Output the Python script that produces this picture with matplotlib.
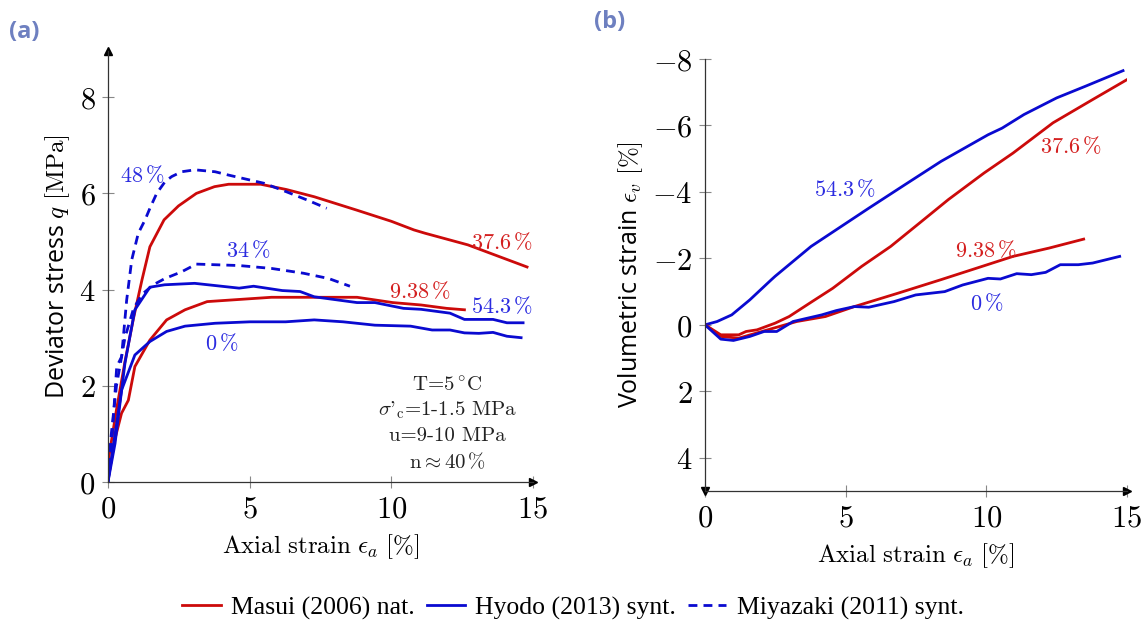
import matplotlib
matplotlib.use("Agg")
import matplotlib.pyplot as plt
from matplotlib.ticker import FuncFormatter, FixedLocator
from matplotlib.lines import Line2D

plt.rcParams['mathtext.fontset'] = 'cm'
plt.rcParams['font.family'] = ['DejaVu Sans']

RED = '#cc0a0a'
BLUE = '#0a0ad0'
RED_T = '#d42020'
BLUE_T = '#2b2be0'

# ---------------- Panel (a): deviator stress ----------------
# Masui (2006) nat., Sh = 37.6 %
a_m376_x = [0, 0.3, 0.6, 0.9, 1.2, 1.48, 1.98, 2.49, 3.12, 3.76, 4.26, 5.39, 6.3, 7.28, 8.79, 10.0, 10.8, 11.2, 12.7, 14.79]
a_m376_y = [0.4, 1.5, 2.5, 3.4, 4.2, 4.89, 5.45, 5.74, 6.0, 6.14, 6.19, 6.19, 6.08, 5.93, 5.65, 5.42, 5.24, 5.17, 4.93, 4.47]
# Masui (2006) nat., Sh = 9.38 %
a_m938_x = [0, 0.25, 0.48, 0.72, 0.95, 1.48, 2.07, 2.72, 3.5, 4.76, 5.77, 8.79, 10.05, 11.05, 11.95, 12.58]
a_m938_y = [0.04, 0.9, 1.43, 1.7, 2.4, 2.95, 3.37, 3.58, 3.75, 3.8, 3.84, 3.84, 3.73, 3.68, 3.61, 3.58]
# Hyodo (2013) synt., Sh = 54.3 %
a_h543_x = [0, 0.25, 0.6, 0.95, 1.48, 2.0, 3.06, 4.63, 5.14, 6.15, 6.78, 7.28, 8.79, 9.42, 10.43, 11.05, 12.07, 12.58, 13.59, 14.08, 14.65]
a_h543_y = [0, 0.8, 2.47, 3.58, 4.05, 4.1, 4.13, 4.03, 4.07, 3.98, 3.96, 3.85, 3.73, 3.73, 3.61, 3.59, 3.51, 3.38, 3.38, 3.31, 3.31]
# Hyodo (2013) synt., Sh = 0 %
a_h0_x = [0, 0.48, 0.95, 1.48, 2.07, 2.72, 3.78, 5.01, 6.27, 7.28, 8.3, 9.42, 10.68, 11.44, 12.07, 12.58, 13.09, 13.59, 14.08, 14.58]
a_h0_y = [0, 1.91, 2.64, 2.92, 3.13, 3.24, 3.3, 3.33, 3.33, 3.37, 3.33, 3.26, 3.24, 3.16, 3.16, 3.1, 3.09, 3.11, 3.03, 3.0]
# Miyazaki (2011) synt., Sh = 48 %
a_y48_x = [0, 0.13, 0.31, 0.48, 0.66, 0.84, 1.07, 1.31, 1.48, 1.72, 2.01, 2.25, 2.6, 3.07, 3.78, 4.26, 5.51, 6.27, 7.04, 7.72]
a_y48_y = [0, 0.8, 2.4, 2.6, 3.78, 4.62, 5.17, 5.45, 5.69, 6.0, 6.24, 6.35, 6.45, 6.49, 6.45, 6.38, 6.21, 6.04, 5.86, 5.69]
# Miyazaki (2011) synt., Sh = 34 %
a_y34_x = [0, 0.1, 0.3, 0.6, 0.9, 1.2, 1.6, 2.01, 2.6, 3.12, 4.63, 5.77, 6.9, 7.79, 8.54]
a_y34_y = [0, 0.9, 2.0, 3.0, 3.6, 3.9, 4.1, 4.23, 4.37, 4.53, 4.5, 4.44, 4.34, 4.23, 4.07]

# ---------------- Panel (b): volumetric strain ----------------
b_h543_x = [0, 0.43, 0.95, 1.59, 2.36, 2.49, 3.77, 5.82, 7.11, 8.39, 10.06, 10.56, 11.34, 12.5, 13.52, 14.86]
b_h543_y = [0, -0.1, -0.3, -0.75, -1.36, -1.46, -2.36, -3.51, -4.22, -4.92, -5.72, -5.92, -6.33, -6.83, -7.18, -7.65]
b_m376_x = [0, 0.56, 1.2, 1.46, 1.85, 2.49, 2.99, 3.77, 4.54, 5.57, 6.6, 7.62, 8.65, 9.92, 10.95, 12.37, 13.78, 15.0]
b_m376_y = [0, 0.3, 0.3, 0.2, 0.15, -0.05, -0.25, -0.68, -1.1, -1.76, -2.36, -3.06, -3.77, -4.57, -5.17, -6.08, -6.78, -7.38]
b_m938_x = [0, 0.56, 1.2, 2.23, 3.26, 4.28, 5.31, 6.85, 8.39, 9.67, 10.95, 12.23, 13.46]
b_m938_y = [0, 0.35, 0.4, 0.15, -0.1, -0.25, -0.55, -0.95, -1.36, -1.71, -2.06, -2.31, -2.58]
b_h0_x = [0, 0.56, 1.01, 1.59, 2.1, 2.55, 3.13, 4.15, 4.67, 5.31, 5.82, 6.72, 7.49, 8.52, 9.16, 10.06, 10.5, 11.08, 11.6, 12.11, 12.63, 13.27, 13.78, 14.74]
b_h0_y = [0, 0.43, 0.47, 0.35, 0.2, 0.2, -0.1, -0.3, -0.43, -0.55, -0.53, -0.7, -0.9, -1.0, -1.2, -1.4, -1.38, -1.54, -1.51, -1.58, -1.81, -1.81, -1.86, -2.06]

a_xticks = [0, 5, 10, 15]
a_yticks = [0, 2, 4, 6, 8]
b_xticks = [0, 5, 10, 15]
b_yticks = [-8, -6, -4, -2, 0, 2, 4]

fig = plt.figure(figsize=(11.46, 6.28), dpi=100)
axa = fig.add_axes([0.0942, 0.2325, 0.3709, 0.6855])
axb = fig.add_axes([0.6152, 0.2182, 0.3682, 0.6878])

lw = 2.0
DASH = (0, (3.2, 2.2))
axa.plot(a_m376_x, a_m376_y, color=RED, lw=lw)
axa.plot(a_m938_x, a_m938_y, color=RED, lw=lw)
axa.plot(a_h543_x, a_h543_y, color=BLUE, lw=lw)
axa.plot(a_h0_x, a_h0_y, color=BLUE, lw=lw)
axa.plot(a_y48_x, a_y48_y, color=BLUE, lw=lw, ls=DASH)
axa.plot(a_y34_x, a_y34_y, color=BLUE, lw=lw, ls=DASH)

axb.plot(b_h543_x, b_h543_y, color=BLUE, lw=lw)
axb.plot(b_m376_x, b_m376_y, color=RED, lw=lw)
axb.plot(b_m938_x, b_m938_y, color=RED, lw=lw)
axb.plot(b_h0_x, b_h0_y, color=BLUE, lw=lw)

fmt = FuncFormatter(lambda v, p: r'$%d$' % v)
for ax in (axa, axb):
    ax.spines['top'].set_visible(False)
    ax.spines['right'].set_visible(False)
    for s in ('left', 'bottom'):
        ax.spines[s].set_color('#333333')
        ax.spines[s].set_linewidth(0.9)
    ax.patch.set_alpha(0)
    ax.xaxis.set_major_formatter(fmt)
    ax.yaxis.set_major_formatter(fmt)
    ax.tick_params(direction='inout', length=8, width=0.8, color='#888888', labelsize=22, pad=5)

axa.set_xlim(0, 15)
axa.set_ylim(0, 8.95)
axa.xaxis.set_major_locator(FixedLocator(a_xticks))
axa.yaxis.set_major_locator(FixedLocator(a_yticks))
axa.plot(1, 0, marker='>', color='black', ms=6, transform=axa.get_yaxis_transform(), clip_on=False)
axa.plot(0, 1, marker='^', color='black', ms=6, transform=axa.get_xaxis_transform(), clip_on=False)

axb.set_xlim(0, 15)
axb.set_ylim(5, -8)
axb.xaxis.set_major_locator(FixedLocator(b_xticks))
axb.yaxis.set_major_locator(FixedLocator(b_yticks))
axb.plot(1, 0, marker='>', color='black', ms=6, transform=axb.transAxes, clip_on=False)
axb.plot(0, 0, marker='v', color='black', ms=6, transform=axb.transAxes, clip_on=False)

axa.set_xlabel(r'$\mathrm{Axial\ strain}\ \epsilon_a\ [\%]$', fontsize=18, labelpad=6)
axb.set_xlabel(r'$\mathrm{Axial\ strain}\ \epsilon_a\ [\%]$', fontsize=18, labelpad=6)
axa.set_ylabel(r'Deviator stress $q\ [\mathrm{MPa}]$', fontsize=18, family='Open Sans', labelpad=5)
axb.set_ylabel(r'Volumetric strain $\epsilon_v\ [\%]$', fontsize=18, family='Open Sans', labelpad=5)

ann = dict(ha='center', va='center', fontsize=16)
axa.text(1.2, 6.38, r'$48\,\%$', color=BLUE_T, **ann)
axa.text(4.94, 4.82, r'$34\,\%$', color=BLUE_T, **ann)
axa.text(13.9, 4.99, r'$37.6\,\%$', color=RED_T, **ann)
axa.text(11.0, 3.97, r'$9.38\,\%$', color=RED_T, **ann)
axa.text(13.9, 3.66, r'$54.3\,\%$', color=BLUE_T, **ann)
axa.text(4.02, 2.89, r'$0\,\%$', color=BLUE_T, **ann)

box = dict(ha='center', va='center', fontsize=15, color='#222222', family='cmr10')
axa.text(11.97, 2.0, r'T=5$\,^{\circ}$C', **box)
axa.text(11.97, 1.5, r"$\sigma$'$_{\mathrm{c}}$=1-1.5 MPa", **box)
axa.text(11.97, 0.96, r'u=9-10 MPa', **box)
axa.text(11.97, 0.42, r'n$\approx$40$\,$%', **box)

axb.text(4.98, -4.07, r'$54.3\,\%$', color=BLUE_T, **ann)
axb.text(13.0, -5.39, r'$37.6\,\%$', color=RED_T, **ann)
axb.text(10.0, -2.23, r'$9.38\,\%$', color=RED_T, **ann)
axb.text(10.0, -0.66, r'$0\,\%$', color=BLUE_T, **ann)

fig.text(0.008, 0.949, '(a)', fontsize=17, fontweight='bold', color='#6e80c0', family='Open Sans', va='center')
fig.text(0.518, 0.965, '(b)', fontsize=17, fontweight='bold', color='#6e80c0', family='Open Sans', va='center')

handles = [Line2D([], [], color=RED, lw=lw),
           Line2D([], [], color=BLUE, lw=lw),
           Line2D([], [], color=BLUE, lw=lw, ls=DASH)]
labels = ['Masui (2006) nat.', 'Hyodo (2013) synt.', 'Miyazaki (2011) synt.']
fig.legend(handles, labels, loc='center', bbox_to_anchor=(0.5, 0.032), ncol=3, frameon=False,
           prop={'family': 'Liberation Serif', 'size': 18.5}, handlelength=1.5, handletextpad=0.4,
           columnspacing=0.45)

fig.savefig('out.png', dpi=100)
